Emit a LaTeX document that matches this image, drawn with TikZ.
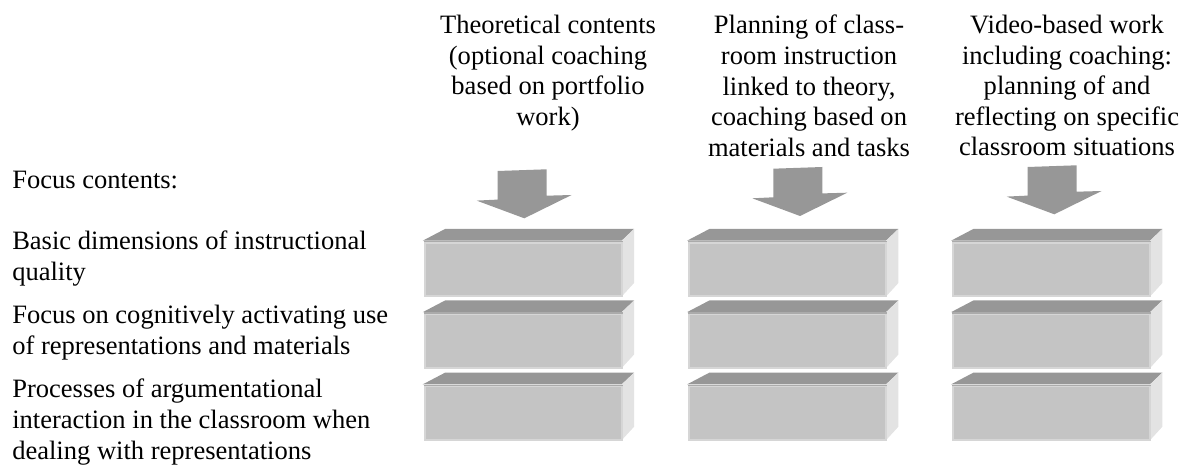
\documentclass[tikz,border=0pt]{standalone}
\usepackage{fontspec}
\setmainfont{Liberation Serif}
\definecolor{topgray}{HTML}{979797}
\definecolor{frontgray}{HTML}{C4C4C4}
\definecolor{rimgray}{HTML}{D6D6D6}
\definecolor{sidegray}{HTML}{E3E3E3}
\definecolor{stripgray}{HTML}{ABABAB}
\begin{document}
\begin{tikzpicture}[x=0.75pt,y=-0.75pt,
  txt/.style={inner sep=0pt, font=\fontsize{19.9pt}{22.9pt}\selectfont},
  hdr/.style={txt, align=center, anchor=north},
  lbl/.style={txt, align=left, anchor=north west},
  front/.style={draw=rimgray, line width=1.5pt, fill=frontgray,
    minimum width=147.75pt, minimum height=40.35pt, inner sep=0pt, anchor=north west},
  topface/.style={fill=topgray},
  strip/.style={draw=stripgray, line width=1.2pt},
  sideface/.style={fill=sidegray},
  blockarrow/.style={fill=topgray}]
\useasboundingbox (0,0) rectangle (1184,466);

% column headers
\node[hdr] (h1) at (548,15) {Theoretical contents\\(optional coaching\\based on portfolio\\work)};
\node[hdr] (h2) at (809,15) {Planning of class-\\room instruction\\linked to theory,\\coaching based on\\materials and tasks};
\node[hdr] (h3) at (1067,15) {Video-based work\\including coaching:\\planning of and\\reflecting on specific\\classroom situations};

% left labels
\node[lbl] (f0) at (12,170.5) {Focus contents:};
\node[lbl] (f1) at (12,231) {Basic dimensions of instructional\\quality};
\node[lbl] (f2) at (12,305) {Focus on cognitively activating use\\of representations and materials};
\node[lbl] (f3) at (12,379) {Processes of argumentational\\interaction in the classroom when\\dealing with representations};

% block arrows
\coordinate (t1) at (524.3,218.3);
\coordinate (t2) at (800,216);
\coordinate (t3) at (1054.3,214.3);
\foreach \t in {t1,t2,t3}{
  \fill[blockarrow, shift={(\t)}] (0,0) -- (-47.7,-17.7) -- (-26.7,-18.7) -- (-26.7,-47.3)
    -- (22.3,-49) -- (22.3,-22.6) -- (47.3,-23.3) -- cycle;
}

% 3D slabs
\foreach \c/\x in {1/422.7,2/687,3/951}{
  \foreach \r/\t in {1/229,2/300.5,3/372.7}{
    \fill[topface] (\x,\t+11.7) -- (\x+22.3,\t) -- (\x+211.3,\t) -- (\x+199,\t+11.7) -- cycle;
    \fill[sideface] (\x+199,\t+11.7) -- (\x+211.3,\t) -- (\x+211.3,\t+54.1) -- (\x+199,\t+67.5) -- cycle;
    \node[front] (b\c\r) at (\x+1,\t+12.7) {};
    \draw[strip] (b\c\r.north west) -- (b\c\r.north east);
  }
}
\end{tikzpicture}
\end{document}
